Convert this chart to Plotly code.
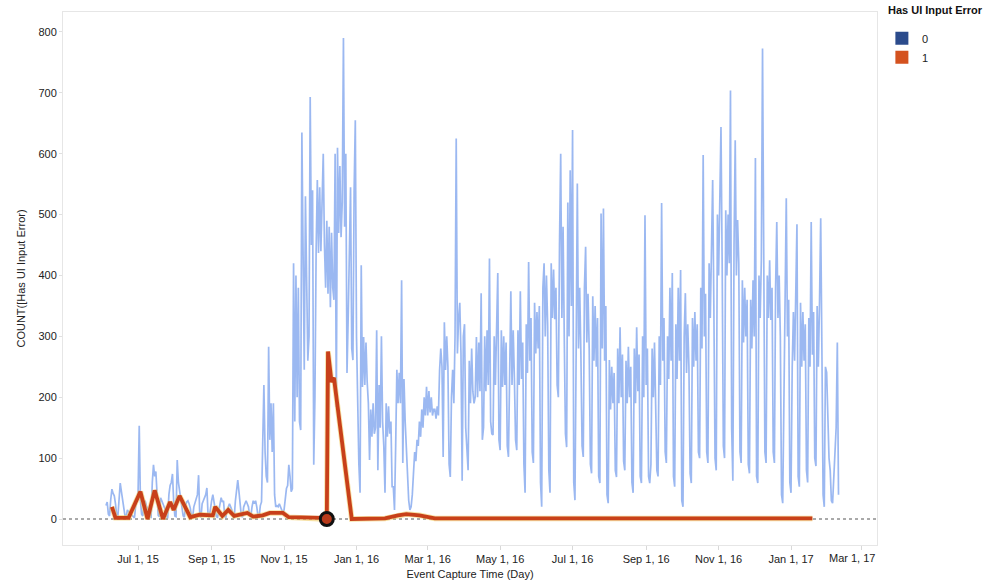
import plotly.graph_objects as go
import pandas as pd

# ---------------- data ----------------
blue_start = "2015-06-04"  # daily counts, Has UI Input Error = 0
blue_counts = [
    22, 28, 8, 5,                              # Jun 4-7 2015
    32, 49, 42, 38, 25, 6, 4,                  # Jun 8
    40, 59, 45, 30, 22, 5, 3,                  # Jun 15
    15, 12, 10, 8, 6, 3, 2,                    # Jun 22
    22, 35, 40, 153, 30, 8, 5,                 # Jun 29
    25, 30, 22, 18, 12, 4, 3,                  # Jul 6
    60, 89, 70, 78, 42, 6, 4,                  # Jul 13
    35, 30, 25, 22, 15, 4, 3,                  # Jul 20
    40, 55, 60, 74, 30, 5, 4,                  # Jul 27
    97, 60, 45, 32, 22, 5, 3,                  # Aug 3
    22, 28, 30, 25, 18, 4, 3,                  # Aug 10
    20, 28, 32, 40, 72, 5, 3,                  # Aug 17
    25, 30, 35, 40, 51, 5, 3,                  # Aug 24
    22, 30, 40, 28, 20, 4, 3,                  # Aug 31
    15, 25, 35, 28, 30, 4, 3,                  # Sep 7
    15, 22, 25, 20, 15, 4, 3,                  # Sep 14
    30, 50, 64, 45, 25, 5, 3,                  # Sep 21
    20, 25, 30, 25, 20, 5, 4,                  # Sep 28
    20, 30, 25, 30, 20, 5, 4,                  # Oct 5
    22, 28, 150, 220, 110, 70, 60,             # Oct 12
    283, 130, 190, 110, 190, 40, 20,           # Oct 19
    22, 20, 25, 20, 18, 10, 15,                # Oct 26
    30, 50, 55, 89, 70, 45, 50,                # Nov 2
    420, 160, 400, 200, 380, 160, 146,         # Nov 9
    635, 420, 245, 530, 420, 260, 300,         # Nov 16
    693, 450, 540, 89, 200, 440, 557,          # Nov 23
    437, 545, 440, 520, 600, 450, 380,         # Nov 30
    490, 370, 480, 348, 470, 380, 360,         # Dec 7
    600, 184, 610, 470, 580, 463, 520,         # Dec 14
    790, 480, 600, 240, 330, 430, 545,         # Dec 21
    280, 261, 540, 655, 300, 150, 90,          # Dec 28
    43, 417, 217, 299, 220, 290, 225,          # Jan 4 2016
    190, 97, 180, 135, 190, 140, 150,          # Jan 11
    310, 80, 220, 150, 300, 160, 120,          # Jan 18
    43, 190, 135, 185, 140, 160, 53,           # Jan 25
    53, 15, 120, 245, 190, 240, 190,           # Feb 1
    392, 92, 230, 160, 120, 60, 30,            # Feb 8
    15, 20, 40, 70, 110, 95, 130,              # Feb 15
    120, 160, 135, 180, 150, 200, 170,         # Feb 22
    217, 170, 210, 175, 200, 170, 180,         # Feb 29
    180, 165, 185, 170, 245, 280, 250,         # Mar 7
    102, 323, 245, 300, 250, 90, 69,           # Mar 14
    200, 245, 190, 300, 625, 272, 330,         # Mar 21
    355, 272, 63, 300, 320, 150, 120,          # Mar 28
    80, 260, 190, 280, 210, 190, 200,          # Apr 4
    299, 200, 290, 210, 371, 130, 150,         # Apr 11
    300, 210, 310, 220, 428, 160, 140,         # Apr 18
    138, 300, 220, 290, 404, 130, 113,         # Apr 25
    310, 217, 300, 220, 290, 120, 102,         # May 2
    300, 374, 220, 310, 230, 130, 113,         # May 9
    310, 220, 374, 230, 290, 90, 43,           # May 16
    320, 240, 422, 260, 330, 110, 92,          # May 23
    355, 272, 340, 280, 350, 60, 20,           # May 30
    380, 420, 300, 400, 320, 80, 43,           # Jun 6
    420, 330, 410, 328, 380, 220, 200,         # Jun 13
    450, 600, 330, 480, 300, 140, 118,         # Jun 20
    520, 300, 573, 350, 639, 60, 31,           # Jun 27
    270, 551, 280, 380, 272, 120, 102,         # Jul 4
    380, 447, 290, 370, 280, 90, 75,           # Jul 11
    366, 260, 350, 250, 330, 70, 59,           # Jul 18
    502, 280, 510, 260, 350, 40, 26,           # Jul 25
    261, 180, 250, 190, 240, 80, 69,           # Aug 1
    280, 190, 315, 200, 270, 95, 80,           # Aug 8
    260, 190, 283, 200, 250, 60, 43,           # Aug 15
    280, 190, 315, 210, 270, 70, 59,           # Aug 22
    300, 200, 499, 220, 280, 70, 59,           # Aug 29
    90, 280, 200, 290, 210, 80, 70,            # Sep 5
    300, 220, 519, 260, 330, 110, 92,          # Sep 12
    300, 230, 380, 260, 404, 70, 53,           # Sep 19
    320, 230, 380, 260, 409, 30, 20,           # Sep 26
    300, 371, 240, 320, 250, 75, 59,           # Oct 3
    330, 250, 340, 260, 320, 110, 100,         # Oct 10
    380, 280, 598, 300, 370, 110, 92,          # Oct 17
    420, 330, 463, 557, 350, 100, 80,          # Oct 24
    500, 400, 550, 644, 420, 120, 100,         # Oct 31
    507, 400, 500, 420, 704, 150, 63,          # Nov 7
    450, 622, 400, 491, 420, 110, 92,          # Nov 14
    392, 290, 380, 300, 360, 90, 75,           # Nov 21
    360, 280, 392, 300, 593, 70, 59,           # Nov 28
    400, 330, 425, 773, 340, 110, 92,          # Dec 5
    400, 330, 425, 327, 380, 110, 92,          # Dec 12
    380, 488, 330, 400, 300, 40, 26,           # Dec 19
    200, 330, 527, 300, 360, 60, 43,           # Dec 26
    250, 340, 260, 355, 484, 70, 53,           # Jan 2 2017
    355, 250, 340, 260, 320, 80, 60,           # Jan 9
    330, 250, 488, 270, 340, 100, 87,          # Jan 16
    350, 250, 355, 494, 280, 40, 20,           # Jan 23
    250, 241, 150, 100, 80, 30, 26,            # Jan 30
    60, 100, 150, 290, 40,                     # Feb 6-10
]

orange_dates = [
    "2015-06-09", "2015-06-12", "2015-06-23", "2015-07-03", "2015-07-09",
    "2015-07-15", "2015-07-22", "2015-07-28", "2015-07-31", "2015-08-05",
    "2015-08-14", "2015-08-22", "2015-09-02", "2015-09-04", "2015-09-10",
    "2015-09-15", "2015-09-20", "2015-10-01", "2015-10-06", "2015-10-14",
    "2015-10-20", "2015-10-31", "2015-11-05", "2015-12-05", "2015-12-07",
    "2015-12-08", "2015-12-11", "2015-12-13", "2015-12-28", "2016-01-25",
    "2016-02-05", "2016-02-12", "2016-02-23", "2016-03-07", "2016-06-01",
    "2016-10-01", "2017-01-19",
]
orange_counts = [
    20, 2, 2, 45, 0,
    47, 0, 28, 15, 38,
    3, 7, 6, 20, 5,
    15, 5, 10, 4, 6,
    10, 10, 3, 2, 0,
    275, 225, 232, 0, 1,
    6, 8, 6, 1, 1,
    1, 1,
]
highlight_index = 24  # highlighted mark on the "1" series

tick_dates = ["2015-07-01", "2015-09-01", "2015-11-01", "2016-01-01", "2016-03-01",
              "2016-05-01", "2016-07-01", "2016-09-01", "2016-11-01", "2017-01-01",
              "2017-03-01"]
tick_labels = ["Jul 1, 15", "Sep 1, 15", "Nov 1, 15", "Jan 1, 16", "Mar 1, 16",
               "May 1, 16", "Jul 1, 16", "Sep 1, 16", "Nov 1, 16", "Jan 1, 17",
               "Mar 1, 17"]
y_ticks = [0, 100, 200, 300, 400, 500, 600, 700, 800]
legend_title = "Has UI Input Error"
legend_names = ["0", "1"]

# ---------------- figure ----------------
blue_dates = pd.date_range(blue_start, periods=len(blue_counts), freq="D")
FONT = "Liberation Sans, Arial, sans-serif"

fig = go.Figure()
fig.add_trace(go.Scatter(
    x=blue_dates, y=blue_counts, mode="lines",
    line=dict(color="rgba(138,172,238,0.85)", width=1.7),
    showlegend=False, hoverinfo="skip"))
fig.add_trace(go.Scatter(
    x=orange_dates, y=orange_counts, mode="lines",
    line=dict(color="rgba(240,200,90,0.55)", width=5.5),
    showlegend=False, hoverinfo="skip"))
fig.add_trace(go.Scatter(
    x=orange_dates, y=orange_counts, mode="lines",
    line=dict(color="#c8401a", width=3.8),
    showlegend=False))
fig.add_trace(go.Scatter(
    x=[orange_dates[highlight_index]], y=[orange_counts[highlight_index]],
    mode="markers",
    marker=dict(size=13, color="#b83a1a", line=dict(color="#111111", width=3)),
    showlegend=False))
for name, col in zip(legend_names, ["#2b4b8c", "#d4521f"]):
    fig.add_trace(go.Scatter(
        x=[None], y=[None], mode="markers", name=name,
        marker=dict(symbol="square", size=13, color=col)))

fig.add_shape(type="line", xref="paper", x0=0, x1=1, yref="y", y0=0, y1=0,
              line=dict(color="#555555", width=1, dash="dot"), layer="below")

# last tick label is pulled inside the plot edge, as in the reference
shown_labels = tick_labels[:-1] + [""]
fig.add_annotation(text=tick_labels[-1], xref="paper", x=1.0, xanchor="right",
                   yref="paper", y=0, yanchor="top", yshift=-5, showarrow=False,
                   font=dict(size=11, color="#222"))
# legend title
fig.add_annotation(text="<b>%s</b>" % legend_title, xref="paper", x=1.011, xanchor="left",
                   yref="paper", y=1.0, yanchor="middle", yshift=2, showarrow=False,
                   font=dict(size=11, color="#111"))

fig.update_layout(
    width=1005, height=587,
    margin=dict(l=63, r=128, t=12, b=42, autoexpand=False),
    paper_bgcolor="white", plot_bgcolor="white",
    font=dict(family=FONT, size=11, color="#222222"),
    showlegend=True,
    legend=dict(
        x=1.006, y=0.978, xanchor="left", yanchor="top",
        font=dict(size=11, color="#222"),
        itemsizing="trace", tracegroupgap=0, bgcolor="rgba(0,0,0,0)"),
    xaxis=dict(
        type="date",
        range=["2015-04-28 19:00", "2017-03-14 10:00"],
        tickmode="array", tickvals=tick_dates, ticktext=shown_labels,
        showgrid=False, zeroline=False,
        showline=True, mirror=True, linecolor="#e6e6e6", linewidth=1,
        ticks="outside", ticklen=4, tickcolor="#d8d8d8",
        tickfont=dict(size=11, color="#222"),
        title=dict(text="Event Capture Time (Day)", font=dict(size=11, color="#222"), standoff=6),
        automargin=False),
    yaxis=dict(
        range=[-42.7, 832.8],
        tickmode="array", tickvals=y_ticks,
        showgrid=False, zeroline=False,
        showline=True, mirror=True, linecolor="#e6e6e6", linewidth=1,
        ticks="outside", ticklen=3, tickcolor="#e0e0e0",
        tickfont=dict(size=11, color="#222"),
        title=dict(text="COUNT([Has UI Input Error)", font=dict(size=11, color="#222"), standoff=10),
        automargin=False),
)

fig.write_html("out.html")
